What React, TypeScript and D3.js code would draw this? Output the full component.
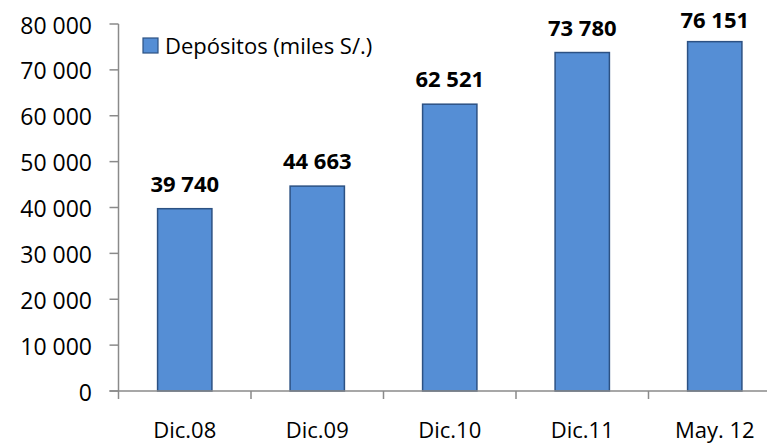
import React from "react";
import * as d3 from "d3";

const categories = ["Dic.08", "Dic.09", "Dic.10", "Dic.11", "May. 12"];
const depositos = [39740, 44663, 62521, 73780, 76151];
const yTicks = [0, 10000, 20000, 30000, 40000, 50000, 60000, 70000, 80000];
const legendLabel = "Depósitos (miles S/.)";

const W = 767;
const H = 445;
const FONT = "'Open Sans', 'Noto Sans', sans-serif";

const fmt = (v: number) => d3.format(",")(v).replace(/,/g, " ");

export default function App() {
  const x0 = 118.5;
  const step = 132.5;
  const yBottom = 391;
  const yTop = 24;

  const band = d3
    .scaleBand<string>()
    .domain(categories)
    .range([x0, x0 + step * categories.length])
    .padding(0);
  const barBand = d3
    .scaleBand<string>()
    .domain(categories)
    .range([x0, x0 + step * categories.length])
    .paddingInner(0.59)
    .paddingOuter(0.295);
  const y = d3.scaleLinear().domain([0, 80000]).range([yBottom, yTop]);

  const axisColor = "#8a8a8a";
  const catTicks = categories.map((c) => band(c) as number).concat([x0 + step * categories.length]);

  return (
    <svg
      width={W}
      height={H}
      style={{ position: "absolute", left: 0, top: 0, display: "block", background: "#fff" }}
      fontFamily={FONT}
    >
      {/* bars */}
      {categories.map((c, i) => (
        <rect
          key={c}
          x={barBand(c)}
          y={y(depositos[i])}
          width={barBand.bandwidth()}
          height={yBottom - y(depositos[i])}
          fill="#558ed5"
          stroke="#2c5183"
          strokeWidth={1.5}
        />
      ))}

      {/* y axis */}
      <line x1={x0} x2={x0} y1={yTop} y2={yBottom} stroke={axisColor} strokeWidth={1.5} />
      {yTicks.map((t) => (
        <g key={t}>
          <line x1={x0 - 9} x2={x0} y1={y(t)} y2={y(t)} stroke={axisColor} strokeWidth={1.5} />
          <text x={92} y={y(t) + 9.5} textAnchor="end" fontSize={23} fill="#000">
            {fmt(t)}
          </text>
        </g>
      ))}

      {/* x axis */}
      <line x1={x0 - 9} x2={W} y1={yBottom} y2={yBottom} stroke={axisColor} strokeWidth={1.5} />
      {catTicks.map((tx, i) => (
        <line key={i} x1={tx} x2={tx} y1={yBottom} y2={yBottom + 8} stroke={axisColor} strokeWidth={1.5} />
      ))}
      {categories.map((c) => (
        <text
          key={c}
          x={(band(c) as number) + band.bandwidth() / 2}
          y={438}
          textAnchor="middle"
          fontSize={22}
          fill="#000"
        >
          {c}
        </text>
      ))}

      {/* value labels */}
      {categories.map((c, i) => (
        <text
          key={c}
          x={(barBand(c) as number) + barBand.bandwidth() / 2}
          y={Math.max(y(depositos[i]) - 17, 28.3)}
          textAnchor="middle"
          fontSize={22}
          fontWeight="bold"
          fill="#000"
        >
          {fmt(depositos[i])}
        </text>
      ))}

      {/* legend */}
      <rect x={143} y={38} width={15} height={15} fill="#558ed5" stroke="#2c5183" strokeWidth={1.2} />
      <text x={165} y={54} fontSize={22} fill="#000">
        {legendLabel}
      </text>
    </svg>
  );
}
